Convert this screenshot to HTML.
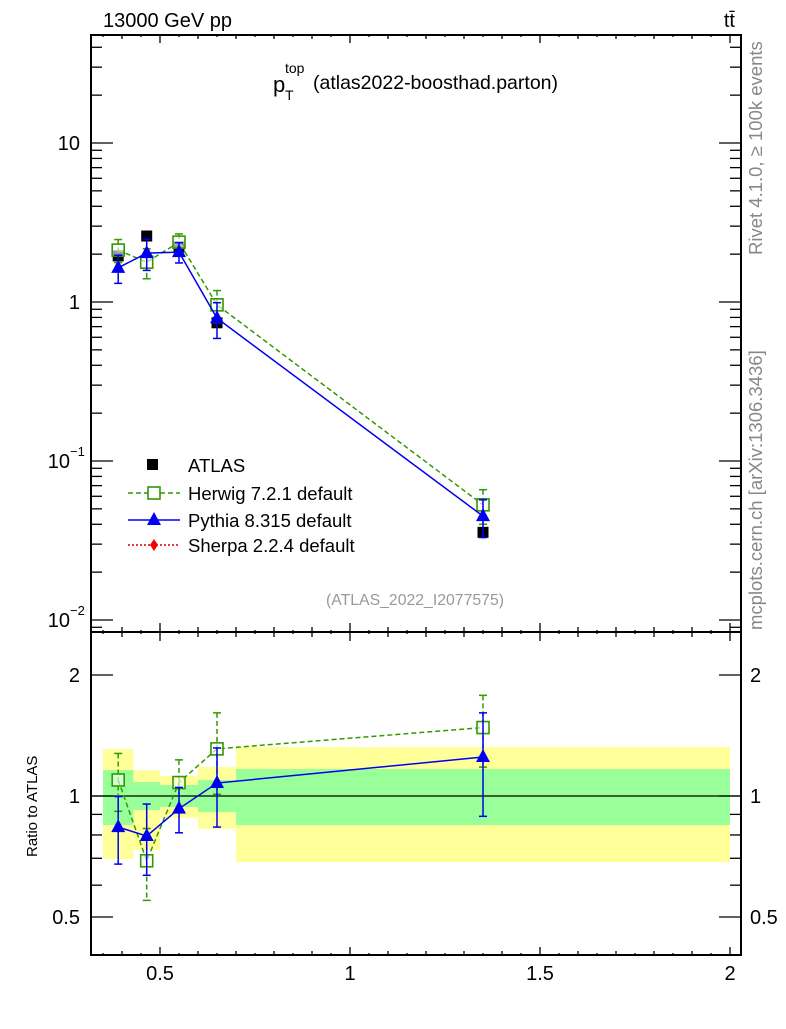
<!DOCTYPE html>
<html><head><meta charset="utf-8"><style>
body{margin:0;background:#fff;}
svg{font-family:"Liberation Sans",sans-serif;}
</style></head><body>
<svg id="c" width="786" height="1024" xmlns="http://www.w3.org/2000/svg"></svg>
<script>
const binEdges=[0.35,0.43,0.5,0.6,0.7,2.0];
const xCenters=[0.39,0.465,0.55,0.65,1.35];
const atlasVals=[1.95,2.6,2.22,0.74,0.0356];
const atlasErr=[0.12,0.15,0.12,0.05,0.003];
const herwigVals=[2.12,1.78,2.38,0.96,0.053];
const herwigErr=[0.35,0.38,0.3,0.22,0.013];
const pythiaVals=[1.64,2.03,2.06,0.79,0.045];
const pythiaErr=[0.33,0.45,0.3,0.2,0.012];
const herwigRatio=[1.096,0.69,1.08,1.31,1.48];
const herwigRatioErr=[0.18,0.14,0.15,0.3,0.3];
const pythiaRatio=[0.837,0.795,0.93,1.077,1.25];
const pythiaRatioErr=[0.16,0.16,0.12,0.24,0.36];
const yellowHi=[1.309,1.16,1.121,1.181,1.324];
const yellowLo=[0.697,0.734,0.882,0.828,0.685];
const greenHi=[1.16,1.083,1.065,1.096,1.167];
const greenLo=[0.847,0.923,0.939,0.912,0.847];
const xTicks=[0.5,1,1.5,2];
const xTickLabels=["0.5","1","1.5","2"];

const L=91,R=741,T=35,M=632,B=955;
const X=v=>160+(v-0.5)*380;
const Y=v=>302-Math.log10(v)*159;
const YR=v=>796-Math.log10(v)*402;
const svg=document.getElementById('c');
const NS='http://www.w3.org/2000/svg';
function mk(tag,a,name,parent){const e=document.createElementNS(NS,tag);for(const k in a)e.setAttribute(k,a[k]);


(parent||svg).appendChild(e);return e;}
function txt(x,y,s,size,name,extra){const e=mk('text',Object.assign({x:x,y:y,'font-size':size},extra||{}),name);e.textContent=s;return e;}

for(let i=0;i<5;i++){
 mk('rect',{x:X(binEdges[i]),y:YR(yellowHi[i]),width:X(binEdges[i+1])-X(binEdges[i]),height:YR(yellowLo[i])-YR(yellowHi[i]),fill:'#ffff99'},'yellow-band');
}
for(let i=0;i<5;i++){
 mk('rect',{x:X(binEdges[i]),y:YR(greenHi[i]),width:X(binEdges[i+1])-X(binEdges[i]),height:YR(greenLo[i])-YR(greenHi[i]),fill:'#99ff99'},'green-band');
}
mk('line',{x1:L,x2:R,y1:YR(1),y2:YR(1),stroke:'#000','stroke-width':1.2},'ratio-unity-line');

mk('rect',{x:L,y:T,width:R-L,height:M-T,fill:'none',stroke:'#000','stroke-width':2},'main-frame');
mk('rect',{x:L,y:M,width:R-L,height:B-M,fill:'none',stroke:'#000','stroke-width':2},'ratio-frame');

for(let d=-3;d<=1;d++)for(let m=1;m<10;m++){const v=m*Math.pow(10,d);const y=Y(v);if(y<T||y>M)continue;
 const len=m==1?22:11;
 mk('line',{x1:L,x2:L+len,y1:y,y2:y,stroke:'#000','stroke-width':1.3},'y-tick');
 mk('line',{x1:R,x2:R-len,y1:y,y2:y,stroke:'#000','stroke-width':1.3},'y-tick-right');}
txt(80,150,'10',20,'y-label-10',{'text-anchor':'end'});
txt(80,309,'1',20,'y-label-1',{'text-anchor':'end'});
txt(70,468,'10',20,'y-label-0.1',{'text-anchor':'end'});txt(70,456,'−1',13,'y-label-exp');
txt(70,627,'10',20,'y-label-0.01',{'text-anchor':'end'});txt(70,615,'−2',13,'y-label-exp');
[0.5,0.6,0.7,0.8,0.9,1,2].forEach(v=>{const y=YR(v);const len=(v==0.5||v==1||v==2)?22:11;
 mk('line',{x1:L,x2:L+len,y1:y,y2:y,stroke:'#000','stroke-width':1.3},'ratio-y-tick');
 mk('line',{x1:R,x2:R-len,y1:y,y2:y,stroke:'#000','stroke-width':1.3},'ratio-y-tick-right');});
[[0.5,'0.5'],[1,'1'],[2,'2']].forEach(([v,s])=>{txt(80,YR(v)+7,s,20,'ratio-y-label',{'text-anchor':'end'});txt(750,YR(v)+7,s,20,'ratio-y-label-right');});
for(let k=7;k<=40;k++){const v=k*0.05;const x=X(v);if(x>R)continue;
 const major=k%10==0, med=k%2==0;
 const lm=major?9:(med?5:2), lb=major?8:(med?4:2);
 mk('line',{x1:x,x2:x,y1:M-lm,y2:M+lm,stroke:'#000','stroke-width':1.3},'x-tick-mid');
 mk('line',{x1:x,x2:x,y1:B,y2:B-lb,stroke:'#000','stroke-width':1.3},'x-tick-bottom');
 mk('line',{x1:x,x2:x,y1:T,y2:T+lb,stroke:'#000','stroke-width':1.3},'x-tick-top');}
xTicks.forEach((v,i)=>txt(X(v),980,xTickLabels[i],20,'x-tick-label',{'text-anchor':'middle'}));

function series(vals,errs,yf,color,dash,marker,name){
 const pts=vals.map((v,i)=>X(xCenters[i])+','+yf(v)).join(' ');
 mk('polyline',{points:pts,fill:'none',stroke:color,'stroke-width':1.5,'stroke-dasharray':dash},name+'-line');
 vals.forEach((v,i)=>{const x=X(xCenters[i]);const y1=yf(v+errs[i]),y2=yf(Math.max(v-errs[i],1e-4));
  mk('line',{x1:x,x2:x,y1:y1,y2:y2,stroke:color,'stroke-width':1.5,'stroke-dasharray':dash},name+'-errorbar');
  mk('line',{x1:x-4,x2:x+4,y1:y1,y2:y1,stroke:color,'stroke-width':1.5},name+'-errcap');
  mk('line',{x1:x-4,x2:x+4,y1:y2,y2:y2,stroke:color,'stroke-width':1.5},name+'-errcap');
  const y=yf(v);
  if(marker=='sq')mk('rect',{x:x-6,y:y-6,width:12,height:12,fill:'#fff','fill-opacity':0.6,stroke:color,'stroke-width':1.6},name+'-point');
  else mk('polygon',{points:`${x},${y-8} ${x-7},${y+5} ${x+7},${y+5}`,fill:color},name+'-point');});
}
atlasVals.forEach((v,i)=>{const x=X(xCenters[i]);
 mk('line',{x1:x,x2:x,y1:Y(v+atlasErr[i]),y2:Y(v-atlasErr[i]),stroke:'#000','stroke-width':1.5},'atlas-errorbar');
 mk('rect',{x:x-5.5,y:Y(v)-5.5,width:11,height:11,fill:'#000'},'atlas-point');});
series(herwigVals,herwigErr,Y,'#339900','5,3','sq','herwig');
series(pythiaVals,pythiaErr,Y,'#0000ee','','tri','pythia');
series(herwigRatio,herwigRatioErr,YR,'#339900','5,3','sq','herwig-ratio');
series(pythiaRatio,pythiaRatioErr,YR,'#0000ee','','tri','pythia-ratio');

mk('rect',{x:147,y:459,width:11,height:11,fill:'#000'},'legend-atlas-marker');
txt(188,472,'ATLAS',18.5,'legend-atlas');
mk('line',{x1:128,x2:180,y1:493,y2:493,stroke:'#339900','stroke-width':1.5,'stroke-dasharray':'5,3'},'legend-herwig-line');
mk('rect',{x:148,y:487,width:12,height:12,fill:'#fff',stroke:'#339900','stroke-width':1.6},'legend-herwig-marker');
txt(188,500,'Herwig 7.2.1 default',18.5,'legend-herwig');
mk('line',{x1:128,x2:180,y1:520,y2:520,stroke:'#0000ee','stroke-width':1.5},'legend-pythia-line');
mk('polygon',{points:'154,512 147,525 161,525',fill:'#0000ee'},'legend-pythia-marker');
txt(188,527,'Pythia 8.315 default',18.5,'legend-pythia');
mk('line',{x1:128,x2:180,y1:545,y2:545,stroke:'#cc0000','stroke-width':1.5,'stroke-dasharray':'2,2'},'legend-sherpa-line');
mk('polygon',{points:'154,539 158,545 154,551 150,545',fill:'#ee0000'},'legend-sherpa-marker');
txt(188,552,'Sherpa 2.2.4 default',18.5,'legend-sherpa');

txt(103,27,'13000 GeV pp',20,'energy-label');
txt(735,27,'tt̄',20,'process-label',{'text-anchor':'end'});
txt(273,92,'p',22,'plot-title');
txt(285,100,'T',14,'plot-title-sub');txt(285,73,'top',14,'plot-title-sup');
txt(313,89,'(atlas2022-boosthad.parton)',19.5,'plot-title-text');
txt(415,605,'(ATLAS_2022_I2077575)',15.8,'analysis-id',{'text-anchor':'middle',fill:'#999'});
txt(0,0,'Rivet 4.1.0, ≥ 100k events',18.5,'rivet-label',{transform:'translate(762,255) rotate(-90)',fill:'#888'});
txt(0,0,'mcplots.cern.ch [arXiv:1306.3436]',18.5,'mcplots-label',{transform:'translate(762,630) rotate(-90)',fill:'#888'});
txt(0,0,'Ratio to ATLAS',15,'ratio-y-title',{transform:'translate(37,857) rotate(-90)'});
</script>
</body></html>
